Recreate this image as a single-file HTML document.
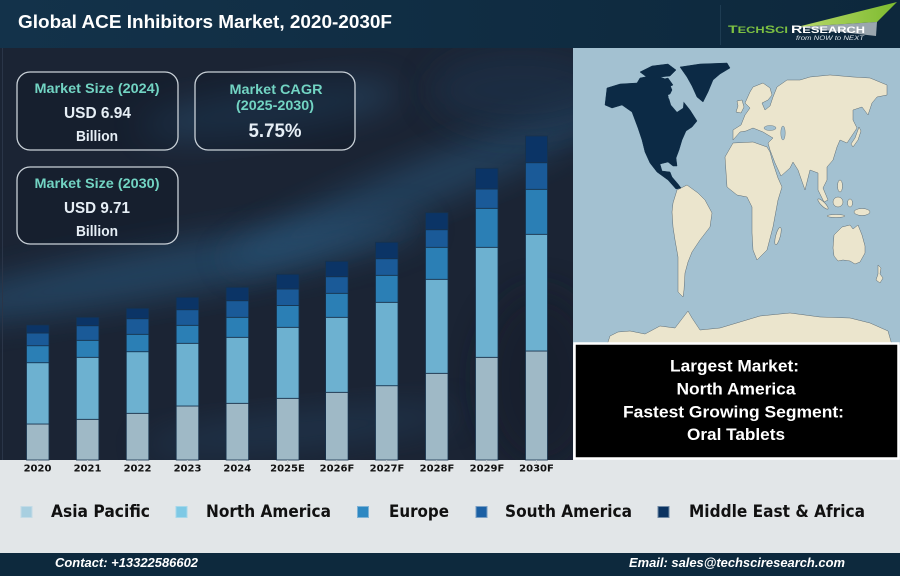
<!DOCTYPE html>
<html><head><meta charset="utf-8"><style>
html,body{margin:0;padding:0;background:#e2e6e8;}
svg{display:block;}
.t{font-family:"Liberation Sans",Arial,sans-serif;font-weight:bold;}
.d{font-family:"DejaVu Sans","Liberation Sans",sans-serif;font-weight:bold;}
</style></head><body>
<svg width="900" height="576" viewBox="0 0 900 576" xmlns="http://www.w3.org/2000/svg">
<defs>
<filter id="blur" x="-50%" y="-50%" width="200%" height="200%"><feGaussianBlur stdDeviation="16"/></filter>
<linearGradient id="hdr" x1="0" y1="0" x2="1" y2="0"><stop offset="0" stop-color="#13324a"/><stop offset="1" stop-color="#0d283c"/></linearGradient>
<linearGradient id="grn" x1="0" y1="0" x2="1" y2="0"><stop offset="0" stop-color="#b9d96a"/><stop offset="1" stop-color="#7dbb2f"/></linearGradient>
<clipPath id="chartclip"><rect x="0" y="48" width="573" height="412"/></clipPath>
<clipPath id="mapclip"><rect x="573" y="48" width="327" height="297"/></clipPath>
</defs>

<rect x="0" y="0" width="900" height="576" fill="#e2e6e8"/>
<!-- header -->
<rect x="0" y="0" width="900" height="48" fill="url(#hdr)"/>
<text class="t" x="18" y="28" font-size="18.5" fill="#ffffff" textLength="374" lengthAdjust="spacingAndGlyphs">Global ACE Inhibitors Market, 2020-2030F</text>
<line x1="720.5" y1="5" x2="720.5" y2="45" stroke="#1e3c52" stroke-width="1"/>
<polygon points="797,27 897,2 877,22" fill="url(#grn)"/>
<polygon points="797,27 877,22 876,36" fill="#9aa6ae"/>
<text class="t" x="728" y="33" font-size="9" fill="#7dc142" textLength="60" lengthAdjust="spacingAndGlyphs"><tspan font-size="11">T</tspan>ECH<tspan font-size="11">S</tspan>CI</text>
<text class="t" x="791" y="33" font-size="9" fill="#ffffff" textLength="74" lengthAdjust="spacingAndGlyphs"><tspan font-size="11">R</tspan>ESEARCH</text>
<text x="796" y="40" font-family="Liberation Sans, sans-serif" font-style="italic" font-size="6.5" fill="#dfe6ea" textLength="68" lengthAdjust="spacingAndGlyphs">from NOW to NEXT</text>

<!-- chart background -->
<g clip-path="url(#chartclip)">
<rect x="0" y="48" width="573" height="412" fill="#1b2434"/>
<ellipse cx="170" cy="270" rx="260" ry="26" transform="rotate(-10 170 270)" fill="#2b5a80" opacity="0.55" filter="url(#blur)"/>
<ellipse cx="420" cy="185" rx="210" ry="24" transform="rotate(-22 420 185)" fill="#2b5a80" opacity="0.5" filter="url(#blur)"/>
<ellipse cx="270" cy="110" rx="130" ry="22" transform="rotate(-8 270 110)" fill="#2d5e86" opacity="0.4" filter="url(#blur)"/>
<ellipse cx="300" cy="430" rx="160" ry="18" transform="rotate(-6 300 430)" fill="#274d70" opacity="0.35" filter="url(#blur)"/>
<ellipse cx="520" cy="90" rx="90" ry="40" fill="#1f3650" opacity="0.5" filter="url(#blur)"/>
<ellipse cx="540" cy="380" rx="60" ry="90" fill="#161d2a" opacity="0.6" filter="url(#blur)"/>
</g>
<line x1="2.5" y1="48" x2="2.5" y2="460" stroke="#2a3548" stroke-width="1"/>

<!-- info boxes -->
<g class="t" text-anchor="middle">
<rect x="17" y="72" width="161" height="78" rx="13" fill="#0f1826" fill-opacity="0.35" stroke="#c9d1d8" stroke-width="1.3"/>
<text x="97" y="93" font-size="13.5" fill="#72d4c3" textLength="125" lengthAdjust="spacingAndGlyphs">Market Size (2024)</text>
<text x="97.5" y="118" font-size="16" fill="#e6eef5" textLength="67" lengthAdjust="spacingAndGlyphs">USD 6.94</text>
<text x="97" y="141" font-size="14.5" fill="#e6eef5" textLength="42" lengthAdjust="spacingAndGlyphs">Billion</text>

<rect x="195" y="72" width="160" height="78" rx="13" fill="#0f1826" fill-opacity="0.35" stroke="#c9d1d8" stroke-width="1.3"/>
<text x="276" y="94" font-size="13.5" fill="#72d4c3" textLength="93" lengthAdjust="spacingAndGlyphs">Market CAGR</text>
<text x="275" y="110" font-size="13.5" fill="#72d4c3" textLength="78" lengthAdjust="spacingAndGlyphs">(2025-2030)</text>
<text x="275" y="137" font-size="19" fill="#e6eef5" textLength="53" lengthAdjust="spacingAndGlyphs">5.75%</text>

<rect x="17" y="167" width="161" height="77" rx="13" fill="#0f1826" fill-opacity="0.35" stroke="#c9d1d8" stroke-width="1.3"/>
<text x="97" y="188" font-size="13.5" fill="#72d4c3" textLength="125" lengthAdjust="spacingAndGlyphs">Market Size (2030)</text>
<text x="97" y="213" font-size="16" fill="#e6eef5" textLength="66" lengthAdjust="spacingAndGlyphs">USD 9.71</text>
<text x="97" y="236" font-size="14.5" fill="#e6eef5" textLength="42" lengthAdjust="spacingAndGlyphs">Billion</text>
</g>

<!-- bars -->
<g stroke="#17324d" stroke-width="0.8">
<rect x="26.5" y="424" width="22.5" height="36" fill="#9fb9c6"/>
<rect x="26.5" y="362.7" width="22.5" height="61.3" fill="#6db1d0"/>
<rect x="26.5" y="345.7" width="22.5" height="17" fill="#2b7fb5"/>
<rect x="26.5" y="333" width="22.5" height="12.7" fill="#1a5a98"/>
<rect x="26.5" y="325" width="22.5" height="8" fill="#0b3466"/>

<rect x="76.4" y="419.3" width="22.5" height="40.7" fill="#9fb9c6"/>
<rect x="76.4" y="357.3" width="22.5" height="62" fill="#6db1d0"/>
<rect x="76.4" y="340.3" width="22.5" height="17" fill="#2b7fb5"/>
<rect x="76.4" y="325.7" width="22.5" height="14.6" fill="#1a5a98"/>
<rect x="76.4" y="317.3" width="22.5" height="8.4" fill="#0b3466"/>

<rect x="126.3" y="413.3" width="22.5" height="46.7" fill="#9fb9c6"/>
<rect x="126.3" y="351.7" width="22.5" height="61.6" fill="#6db1d0"/>
<rect x="126.3" y="334.3" width="22.5" height="17.4" fill="#2b7fb5"/>
<rect x="126.3" y="318.7" width="22.5" height="15.6" fill="#1a5a98"/>
<rect x="126.3" y="308.3" width="22.5" height="10.4" fill="#0b3466"/>

<rect x="176.2" y="406" width="22.5" height="54" fill="#9fb9c6"/>
<rect x="176.2" y="343.3" width="22.5" height="62.7" fill="#6db1d0"/>
<rect x="176.2" y="325.3" width="22.5" height="18" fill="#2b7fb5"/>
<rect x="176.2" y="309.7" width="22.5" height="15.6" fill="#1a5a98"/>
<rect x="176.2" y="297.3" width="22.5" height="12.4" fill="#0b3466"/>

<rect x="226.1" y="403.3" width="22.5" height="56.7" fill="#9fb9c6"/>
<rect x="226.1" y="337.3" width="22.5" height="66" fill="#6db1d0"/>
<rect x="226.1" y="317.3" width="22.5" height="20" fill="#2b7fb5"/>
<rect x="226.1" y="300.7" width="22.5" height="16.6" fill="#1a5a98"/>
<rect x="226.1" y="287.3" width="22.5" height="13.4" fill="#0b3466"/>

<rect x="276.5" y="398.3" width="22.5" height="61.7" fill="#9fb9c6"/>
<rect x="276.5" y="327.3" width="22.5" height="71" fill="#6db1d0"/>
<rect x="276.5" y="305.5" width="22.5" height="21.8" fill="#2b7fb5"/>
<rect x="276.5" y="289" width="22.5" height="16.5" fill="#1a5a98"/>
<rect x="276.5" y="274.3" width="22.5" height="14.7" fill="#0b3466"/>

<rect x="325.6" y="392.3" width="22.5" height="67.7" fill="#9fb9c6"/>
<rect x="325.6" y="317.3" width="22.5" height="75" fill="#6db1d0"/>
<rect x="325.6" y="293.3" width="22.5" height="24" fill="#2b7fb5"/>
<rect x="325.6" y="276.7" width="22.5" height="16.6" fill="#1a5a98"/>
<rect x="325.6" y="261.3" width="22.5" height="15.4" fill="#0b3466"/>

<rect x="375.5" y="385.7" width="22.5" height="74.3" fill="#9fb9c6"/>
<rect x="375.5" y="302.3" width="22.5" height="83.4" fill="#6db1d0"/>
<rect x="375.5" y="275.3" width="22.5" height="27" fill="#2b7fb5"/>
<rect x="375.5" y="258.7" width="22.5" height="16.6" fill="#1a5a98"/>
<rect x="375.5" y="242.3" width="22.5" height="16.4" fill="#0b3466"/>

<rect x="425.5" y="373.3" width="22.5" height="86.7" fill="#9fb9c6"/>
<rect x="425.5" y="279.3" width="22.5" height="94" fill="#6db1d0"/>
<rect x="425.5" y="247.3" width="22.5" height="32" fill="#2b7fb5"/>
<rect x="425.5" y="229.7" width="22.5" height="17.6" fill="#1a5a98"/>
<rect x="425.5" y="212.7" width="22.5" height="17" fill="#0b3466"/>

<rect x="475.5" y="357.3" width="22.5" height="102.7" fill="#9fb9c6"/>
<rect x="475.5" y="247.3" width="22.5" height="110" fill="#6db1d0"/>
<rect x="475.5" y="208.3" width="22.5" height="39" fill="#2b7fb5"/>
<rect x="475.5" y="189" width="22.5" height="19.3" fill="#1a5a98"/>
<rect x="475.5" y="168.3" width="22.5" height="20.7" fill="#0b3466"/>

<rect x="525.5" y="351" width="22" height="109" fill="#9fb9c6"/>
<rect x="525.5" y="234.3" width="22" height="116.7" fill="#6db1d0"/>
<rect x="525.5" y="189.3" width="22" height="45" fill="#2b7fb5"/>
<rect x="525.5" y="162.7" width="22" height="26.6" fill="#1a5a98"/>
<rect x="525.5" y="136" width="22" height="26.7" fill="#0b3466"/>
</g>

<g stroke="#c5cdd2" stroke-width="1">
<line x1="37.7" y1="460" x2="37.7" y2="463"/><line x1="87.6" y1="460" x2="87.6" y2="463"/><line x1="137.5" y1="460" x2="137.5" y2="463"/><line x1="187.4" y1="460" x2="187.4" y2="463"/><line x1="237.3" y1="460" x2="237.3" y2="463"/><line x1="287.7" y1="460" x2="287.7" y2="463"/><line x1="336.8" y1="460" x2="336.8" y2="463"/><line x1="386.7" y1="460" x2="386.7" y2="463"/><line x1="436.7" y1="460" x2="436.7" y2="463"/><line x1="486.7" y1="460" x2="486.7" y2="463"/><line x1="536.5" y1="460" x2="536.5" y2="463"/>
</g>
<g class="d" font-size="10" fill="#111" text-anchor="middle">
<text x="37.5" y="471.5">2020</text>
<text x="87.5" y="471.5">2021</text>
<text x="137.5" y="471.5">2022</text>
<text x="187.5" y="471.5">2023</text>
<text x="237.3" y="471.5">2024</text>
<text x="287.5" y="471.5">2025E</text>
<text x="337" y="471.5">2026F</text>
<text x="387" y="471.5">2027F</text>
<text x="437" y="471.5">2028F</text>
<text x="487" y="471.5">2029F</text>
<text x="536.5" y="471.5">2030F</text>
</g>

<!-- map -->
<g clip-path="url(#mapclip)">
<rect x="573" y="48" width="327" height="297" fill="#a3c1d1"/>
<g fill="#ebe5cd" stroke="#5d6b72" stroke-width="0.5" stroke-linejoin="round">
<!-- South America -->
<polygon points="677,190 687,185 698,193 705,200 712,213 710,227 700,240 692,252 688,262 685,273 684,290 683,297 678,292 678,275 678,257 675,240 673,227 672,212 673,203"/>
<!-- Eurasia + Arabia -->
<polygon points="733,140 733,130 741,125 745,115 750,108 745,103 750,92 753,87 763,83 770,88 772,95 768,100 762,103 765,110 770,106 773,97 777,87 787,80 800,80 810,77 830,75 853,77 870,78 887,85 887,95 877,97 872,103 868,115 862,107 853,110 853,120 857,128 847,143 840,140 837,147 833,160 827,167 827,180 823,188 828,200 824,202 818,190 818,173 810,170 805,190 798,170 793,162 790,168 781,176 775,163 770,150 768,143 773,138 763,132 753,128 746,131 740,132"/>
<!-- Britain -->
<polygon points="737,101 742,100 744,107 741,113 736,112 738,106"/>
<!-- Africa -->
<polygon points="733,143 753,142 767,147 770,152 773,163 778,178 782,187 778,200 773,227 767,250 757,260 753,250 752,233 752,207 747,197 737,195 727,187 725,157"/>
<!-- Madagascar -->
<ellipse cx="778" cy="236" rx="2.3" ry="9" transform="rotate(15 778 236)"/>
<!-- Japan -->
<polygon points="859,127 861,131 858,140 853,147 851,144 855,138"/>
<!-- Indonesia / Philippines -->
<ellipse cx="823" cy="204" rx="7" ry="2" transform="rotate(45 823 204)"/>
<ellipse cx="838" cy="202" rx="5" ry="5"/>
<ellipse cx="836" cy="216" rx="9" ry="1.5"/>
<ellipse cx="850" cy="203" rx="2.5" ry="4"/>
<ellipse cx="862" cy="212" rx="8" ry="3.5"/>
<ellipse cx="840" cy="186" rx="2.5" ry="6"/>
<!-- Australia -->
<polygon points="834,235 842,227 850,225 853,229 858,225 862,235 865,246 865,253 860,262 855,264 850,261 843,260 838,261 834,256 833,248"/>
<!-- NZ -->
<polygon points="878,265 881,268 880,274 883,278 880,283 876,280 878,274"/>
<!-- Antarctica -->
<polygon points="607,345 610,336 618,332 630,331 645,334 660,326 675,328 688,311 692,318 700,330 720,328 740,322 760,316 790,313 820,317 850,318 870,323 888,331 892,345"/>
</g>
<!-- inland seas -->
<ellipse cx="770" cy="128" rx="6" ry="2.5" fill="#a3c1d1" stroke="#5d6b72" stroke-width="0.4"/>
<ellipse cx="783" cy="133" rx="2.2" ry="7" fill="#a3c1d1" stroke="#5d6b72" stroke-width="0.4"/>
<!-- North America dark -->
<g fill="#0c2a45" stroke="#0c2a45" stroke-width="0.5">
<polygon points="605,105 607,88 620,84 637,83 640,78 655,75 668,80 672,90 668,98 676,104 682,100 690,110 697,121 692,127 686,131 682,140 679,150 676,158 677,166 673,166 668,162 660,164 662,171 670,172 672,177 678,184 681,188 676,189 668,180 657,172 650,163 645,152 642,140 638,128 632,112 622,105 612,108"/>
<polygon points="680,67 700,64 727,63 730,68 720,74 713,80 708,92 703,102 697,97 692,86 687,77"/>
<polygon points="640,72 652,66 668,64 676,70 670,76 660,77 648,78"/>
<polygon points="660,80 668,78 673,85 666,88"/>
</g>
<polygon points="668,95 676,92 684,98 683,108 677,112 671,105" fill="#a3c1d1"/>
</g>

<!-- black info box -->
<rect x="574.5" y="343.5" width="324" height="115" fill="#000" stroke="#ffffff" stroke-width="2.5"/>
<g class="t" fill="#ffffff" font-size="17" text-anchor="middle">
<text x="734.5" y="371.5" textLength="129" lengthAdjust="spacingAndGlyphs">Largest Market:</text>
<text x="736" y="394.3" textLength="119" lengthAdjust="spacingAndGlyphs">North America</text>
<text x="733.5" y="417.3" textLength="221" lengthAdjust="spacingAndGlyphs">Fastest Growing Segment:</text>
<text x="736" y="440" textLength="98" lengthAdjust="spacingAndGlyphs">Oral Tablets</text>
</g>

<!-- legend -->
<g stroke-width="1">
<rect x="21" y="506.5" width="11" height="11" fill="#a8cfe0" stroke="#c3dbe6"/>
<rect x="176" y="506.5" width="11" height="11" fill="#7ec9e5" stroke="#a6d8ea"/>
<rect x="357.5" y="506.5" width="11" height="11" fill="#2e88c2" stroke="#7fb3d6"/>
<rect x="476" y="506.5" width="11" height="11" fill="#1b60a4" stroke="#7a9fc4"/>
<rect x="658" y="506.5" width="11" height="11" fill="#0a3260" stroke="#6f88a3"/>
</g>
<g class="d" font-size="16.5" fill="#111">
<text x="51" y="517" textLength="99" lengthAdjust="spacingAndGlyphs">Asia Pacific</text>
<text x="206" y="517" textLength="125" lengthAdjust="spacingAndGlyphs">North America</text>
<text x="389" y="517" textLength="60" lengthAdjust="spacingAndGlyphs">Europe</text>
<text x="505" y="517" textLength="127" lengthAdjust="spacingAndGlyphs">South America</text>
<text x="689" y="517" textLength="176" lengthAdjust="spacingAndGlyphs">Middle East &amp; Africa</text>
</g>

<!-- footer -->
<rect x="0" y="553" width="900" height="23" fill="#0d293d"/>
<g class="t" font-style="italic" fill="#ffffff" font-size="12.5">
<text x="55" y="567" textLength="143" lengthAdjust="spacingAndGlyphs">Contact: +13322586602</text>
<text x="629" y="567" textLength="216" lengthAdjust="spacingAndGlyphs">Email: sales@techsciresearch.com</text>
</g>
</svg>
</body></html>
